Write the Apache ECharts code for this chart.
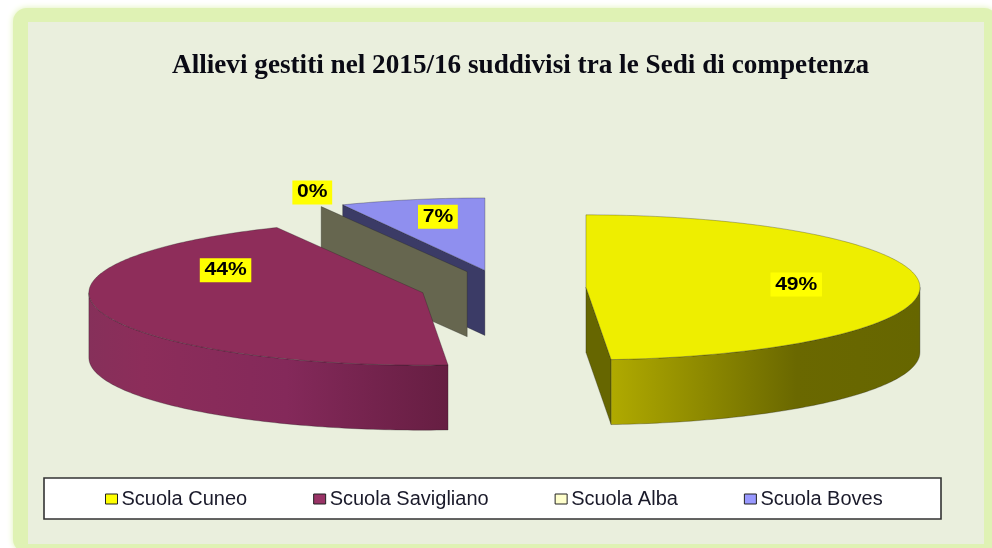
<!DOCTYPE html>
<html>
<head>
<meta charset="utf-8">
<style>html,body{margin:0;padding:0;background:#fff}#c{width:992px;height:548px;filter:blur(0.45px)}</style>
<script src="https://cdn.jsdelivr.net/npm/echarts@6/dist/echarts.min.js"></script>
</head>
<body>
<div id="c"></div>
<script>
// ---- data (percent shares) ----
const schools = ['Scuola Cuneo', 'Scuola Savigliano', 'Scuola Alba', 'Scuola Boves'];
const shares = [48.8, 44.0, 0.2, 7.0];
const chartTitle = 'Allievi gestiti nel 2015/16 suddivisi tra le Sedi di competenza';

// ---- style ----
const legendColors = ['#FFFF00', '#993366', '#FFFFCC', '#9999FF'];
const topColors = ['#EEEE00', '#8E2D5A', '#66664F', '#8F8FEF'];
const faceColors = ['#666600', '#6A1F42', '#66664F', '#3B3B66'];
const wallStops = [
  [[0, '#B0AA00'], [0.6, '#6A6800'], [1, '#666600']],
  [[0, '#86305A'], [0.15, '#8C2D5A'], [0.55, '#84295A'], [1, '#661E42']],
  [[0, '#66664F'], [1, '#66664F']],
  [[0, '#3B3B66'], [1, '#3B3B66']]
];
// pie projection
const CX = 503, CY = 288, RX = 334, TILT = 0.217, DEPTH = 65, EXPLODE = 83;
// label placement: fraction of radius along mid angle, and upward lift
const labelFrac = [0.63, 0.612, 1.075, 0.645];
const labelLift = [1, 34, 9, 8];

const rad = d => d * Math.PI / 180;
const total = shares.reduce((a, b) => a + b, 0);
const starts = [];
shares.reduce((acc, v, i) => { starts[i] = acc; return acc + v; }, 0);

function arcPts(c, a, b, dy) {
  const pts = [];
  const n = Math.max(1, Math.ceil(Math.abs(b - a)));
  for (let k = 0; k <= n; k++) {
    const t = rad(a + (b - a) * k / n);
    pts.push([c[0] + RX * Math.sin(t), c[1] - RX * TILT * Math.cos(t) + dy]);
  }
  return pts;
}

function renderSlice(i, params, api) {
  const value = api.value(0);
  const a = starts[i] / total * 360;
  const b = a + value / total * 360;
  const mid = rad((a + b) / 2);
  const c = [CX + EXPLODE * Math.sin(mid), CY - EXPLODE * TILT * Math.cos(mid)];
  const children = [];
  const edge = 'rgba(30,30,30,0.5)';
  const face = ang => {
    const p = arcPts(c, ang, ang, 0)[0];
    return { type: 'polygon', shape: { points: [c, p, [p[0], p[1] + DEPTH], [c[0], c[1] + DEPTH]] },
      style: { fill: faceColors[i], stroke: edge, lineWidth: 0.6 } };
  };
  if (-Math.cos(rad(a - 90)) > 0) children.push(face(a));
  if (-Math.cos(rad(b + 90)) > 0) children.push(face(b));
  const wa = Math.max(a, 90), wb = Math.min(b, 270);
  if (wb > wa) {
    const upper = arcPts(c, wa, wb, 0), lower = arcPts(c, wb, wa, DEPTH);
    const stops = wallStops[i].map(s => ({ offset: s[0], color: s[1] }));
    children.push({ type: 'polygon', shape: { points: upper.concat(lower) },
      style: { fill: { type: 'linear', x: 0, y: 0, x2: 1, y2: 0, colorStops: stops }, stroke: edge, lineWidth: 0.6 } });
  }
  const top = (b - a > 2) ? [c].concat(arcPts(c, a, b, 0)) : null;
  if (top) children.push({ type: 'polygon', shape: { points: top },
    style: { fill: topColors[i], stroke: edge, lineWidth: 0.6 } });
  const lx = c[0] + labelFrac[i] * RX * Math.sin(mid);
  const ly = c[1] - labelFrac[i] * RX * TILT * Math.cos(mid) - labelLift[i];
  children.push({ type: 'text', x: lx, y: ly, scaleX: 1.17, z2: 50,
    style: { text: Math.round(value / total * 100) + '%', align: 'center', verticalAlign: 'middle',
      font: 'bold 18px "Liberation Sans", Arial, sans-serif', fill: '#000',
      backgroundColor: '#FFFF00', padding: [3, 4, 3, 4] } });
  return { type: 'group', children };
}

// back-to-front drawing order; the legend keeps the reading order
const drawOrder = [3, 2, 1, 0];
const series = drawOrder.map(i => ({
  type: 'custom',
  name: schools[i],
  coordinateSystem: 'none',
  silent: true,
  itemStyle: { color: legendColors[i] },
  data: [[shares[i]]],
  renderItem: (params, api) => renderSlice(i, params, api)
}));

const chart = echarts.init(document.getElementById('c'));
chart.setOption({
  animation: false,
  backgroundColor: '#fff',
  title: {
    text: chartTitle, left: 172, top: 52, padding: 0,
    textStyle: { fontFamily: '"Liberation Serif", "Times New Roman", serif', fontWeight: 'bold', fontSize: 27.2, color: '#0a0a14' }
  },
  legend: {
    data: schools, left: 105, top: 489, padding: 0, itemGap: 66, itemWidth: 12, itemHeight: 10, itemStyle: { borderColor: '#222', borderWidth: 1 },
    icon: 'rect', selectedMode: false,
    textStyle: { fontFamily: '"Liberation Sans", Arial, sans-serif', fontSize: 20, color: '#1a1a2a', padding: [0, 0, 0, -1] }
  },
  graphic: [
    { type: 'rect', z: -3, shape: { x: 13, y: 8, width: 985, height: 545, r: 14 }, style: { fill: '#DFF2B4', shadowBlur: 6, shadowColor: '#DFF2B4' } },
    { type: 'rect', z: -2, shape: { x: 28, y: 22, width: 956, height: 522 }, style: { fill: '#EAEFDD' } },
    { type: 'rect', z: -1, shape: { x: 44, y: 478, width: 897, height: 41 }, style: { fill: '#fff', stroke: '#333', lineWidth: 1.6 } }
  ],
  series
});
</script>
</body>
</html>
